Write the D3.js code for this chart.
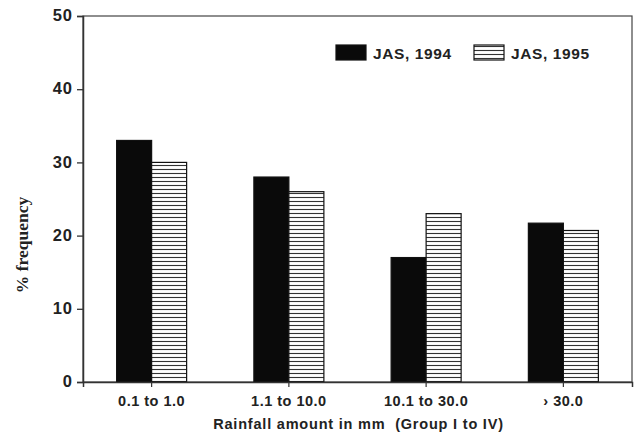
<!DOCTYPE html>
<html>
<head>
<meta charset="utf-8">
<title>rainfall frequency</title>
<style>
  body { margin: 0; background: #fff; }
  svg { font-family: "Liberation Sans", Arial, sans-serif; font-weight: bold; }
</style>
</head>
<body>
<div id="chart"></div>
<script src="https://cdn.jsdelivr.net/npm/d3@7"></script>
<script>
var categories = ["0.1 to 1.0", "1.1 to 10.0", "10.1 to 30.0", "\u203A 30.0"];
var seriesNames = ["JAS, 1994", "JAS, 1995"];
var jas1994 = [33, 28, 17, 21.7];
var jas1995 = [30, 26, 23, 20.7];
var yTicks = [0, 10, 20, 30, 40, 50];

var W = 637, H = 435;
var margin = {top: 16, right: 5, bottom: 53, left: 83};
var width = W - margin.left - margin.right,
    height = H - margin.top - margin.bottom;

var svg = d3.select("#chart").append("svg")
    .attr("width", W)
    .attr("height", H);

// horizontal hatch
var pat = svg.append("defs").append("pattern")
    .attr("id", "hatch")
    .attr("patternUnits", "userSpaceOnUse")
    .attr("width", 8).attr("height", 4);
pat.append("rect").attr("width", 8).attr("height", 4).attr("fill", "#fff");
pat.append("line").attr("x1", 0).attr("x2", 8).attr("y1", 1.5).attr("y2", 1.5)
    .attr("stroke", "#333").attr("stroke-width", 1.1);

var g = svg.append("g").attr("transform", "translate(" + margin.left + "," + margin.top + ")");

var x = d3.scaleBand().domain(categories).range([0, width])
    .paddingInner(0.49).paddingOuter(0.245);
var xs = d3.scaleBand().domain(seriesNames).range([0, x.bandwidth()]);
var y = d3.scaleLinear().domain([0, 50]).range([height, 0]);

var rows = categories.map(function(c, i) {
  return {cat: c, vals: [jas1994[i], jas1995[i]]};
});

// frame
g.append("rect").attr("width", width).attr("height", height)
  .attr("fill", "none").attr("stroke", "#444").attr("stroke-width", 1.2);

var grp = g.selectAll(".grp").data(rows).enter().append("g")
  .attr("transform", function(d) { return "translate(" + x(d.cat) + ",0)"; });

grp.selectAll("rect").data(function(d) {
    return d.vals.map(function(v, j) { return {s: seriesNames[j], v: v, j: j}; });
  }).enter().append("rect")
  .attr("x", function(d) { return xs(d.s); })
  .attr("y", function(d) { return y(d.v); })
  .attr("width", xs.bandwidth())
  .attr("height", function(d) { return height - y(d.v); })
  .attr("fill", function(d) { return d.j == 0 ? "#0a0a0a" : "url(#hatch)"; })
  .attr("stroke", "#111")
  .attr("stroke-width", 1.2);

var yAxis = d3.axisLeft(y).tickValues(yTicks).tickSize(6).tickPadding(4);
var ya = g.append("g").call(yAxis);
ya.select(".domain").attr("stroke", "#333").attr("stroke-width", 1.5);
ya.selectAll(".tick line").attr("stroke", "#333").attr("stroke-width", 1.3);
ya.selectAll(".tick text").attr("font-size", 16.5).attr("font-weight", "bold")
  .attr("font-family", "Liberation Sans, Arial, sans-serif")
  .attr("dy", "0.28em")
  .style("letter-spacing", "1px").attr("fill", "#222");

var xAxis = d3.axisBottom(x).tickSize(5).tickPadding(9)
  .tickFormat(function(d) { return d; });
var xa = g.append("g").attr("transform", "translate(0," + height + ")").call(xAxis);
xa.selectAll(".tick").attr("transform", function(d) {
  return "translate(" + (x(d) + x.bandwidth() / 2) + ",0)";
});
xa.select(".domain").attr("stroke", "#333").attr("stroke-width", 1.5);
xa.selectAll(".tick line").attr("stroke", "#333").attr("stroke-width", 1.2);
xa.selectAll(".tick text").attr("font-size", 14.5).attr("font-weight", "bold")
  .attr("font-family", "Liberation Sans, Arial, sans-serif")
  .style("letter-spacing", "0.5px").attr("fill", "#222");

// axis titles
svg.append("text")
  .attr("x", margin.left + width / 2 + 1).attr("y", 429)
  .attr("text-anchor", "middle").attr("font-size", 14.5).attr("fill", "#222")
  .style("letter-spacing", "0.8px")
  .attr("xml:space", "preserve")
  .text("Rainfall amount in mm  (Group I to IV)");

svg.append("text")
  .attr("transform", "translate(28,245) rotate(-90)")
  .attr("text-anchor", "middle").attr("font-size", 17.5)
  .attr("font-family", "Liberation Serif, Times New Roman, serif")
  .attr("fill", "#222")
  .text("% frequency");

// legend
var legX = [336, 474];
var leg = svg.selectAll(".leg").data(seriesNames).enter().append("g")
  .attr("transform", function(d, i) { return "translate(" + legX[i] + ",45)"; });
leg.append("rect").attr("width", 30).attr("height", 15)
  .attr("fill", function(d, i) { return i == 0 ? "#0a0a0a" : "url(#hatch)"; })
  .attr("stroke", "#111").attr("stroke-width", 1.2);
leg.append("text").attr("x", 37).attr("y", 14)
  .attr("font-size", 15.5).attr("fill", "#222")
  .style("letter-spacing", "0.6px")
  .text(function(d) { return d; });
</script>
</body>
</html>
